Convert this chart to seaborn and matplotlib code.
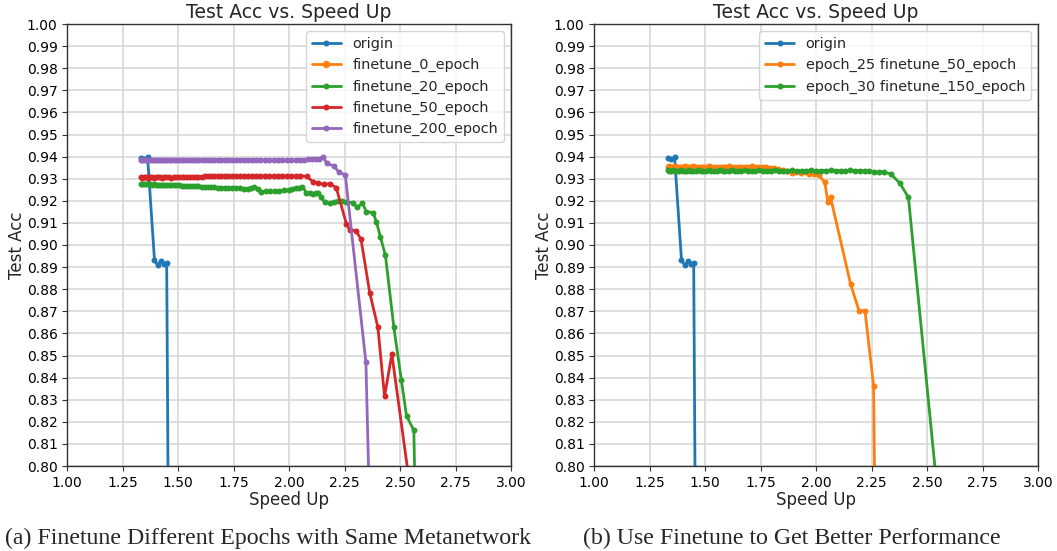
import matplotlib
matplotlib.use("Agg")
import matplotlib.pyplot as plt
import seaborn as sns
import numpy as np

# ---------------- data ----------------
# shared "origin" curve
origin_x = [1.330, 1.346, 1.362, 1.393, 1.408, 1.423, 1.435, 1.448, 1.460]
origin_y = [0.9393, 0.9389, 0.9396, 0.8932, 0.8908, 0.8927, 0.8912, 0.8920, 0.7000]

# left panel
ft0_x = []   # finetune_0_epoch: below visible range
ft0_y = []

ft200_x = [1.330, 1.338, 1.346, 1.354, 1.362, 1.371, 1.380, 1.389, 1.398, 1.407,
           1.417, 1.427, 1.437, 1.447, 1.458, 1.469, 1.480, 1.491, 1.503, 1.515,
           1.527, 1.539, 1.552, 1.565, 1.578, 1.591, 1.605, 1.619, 1.633, 1.648,
           1.663, 1.678, 1.694, 1.710, 1.726, 1.743, 1.760, 1.777, 1.795, 1.813,
           1.832, 1.851, 1.870, 1.890, 1.910, 1.930, 1.950, 1.970, 1.990, 2.010,
           2.030, 2.050, 2.068, 2.086, 2.104, 2.120, 2.136, 2.152, 2.170, 2.202,
           2.224, 2.253, 2.346, 2.370]
ft200_y = [0.9386, 0.9385, 0.9385, 0.9386, 0.9385, 0.9384, 0.9385, 0.9385, 0.9386, 0.9385,
           0.9385, 0.9384, 0.9385, 0.9385, 0.9386, 0.9385, 0.9385, 0.9385, 0.9384, 0.9385,
           0.9385, 0.9386, 0.9385, 0.9385, 0.9385, 0.9384, 0.9385, 0.9385, 0.9385, 0.9386,
           0.9385, 0.9385, 0.9384, 0.9385, 0.9385, 0.9385, 0.9386, 0.9385, 0.9385, 0.9385,
           0.9384, 0.9385, 0.9385, 0.9385, 0.9386, 0.9385, 0.9385, 0.9385, 0.9384, 0.9385,
           0.9385, 0.9386, 0.9386, 0.9387, 0.9388, 0.9389, 0.9391, 0.9397, 0.9370, 0.9357,
           0.9330, 0.9317, 0.8469, 0.7500]

ft50_x = [1.330, 1.338, 1.346, 1.354, 1.362, 1.371, 1.380, 1.389, 1.398, 1.407,
          1.417, 1.427, 1.437, 1.447, 1.458, 1.469, 1.480, 1.491, 1.503, 1.515,
          1.527, 1.539, 1.552, 1.565, 1.578, 1.591, 1.605, 1.619, 1.633, 1.648,
          1.663, 1.678, 1.694, 1.710, 1.726, 1.743, 1.760, 1.777, 1.795, 1.813,
          1.832, 1.851, 1.870, 1.890, 1.910, 1.930, 1.950, 1.970, 1.990, 2.010,
          2.030, 2.047, 2.080, 2.107, 2.130, 2.155, 2.182, 2.212, 2.258, 2.273,
          2.300, 2.324, 2.363, 2.400, 2.430, 2.463, 2.600]
ft50_y = [0.9306, 0.9305, 0.9306, 0.9306, 0.9305, 0.9306, 0.9306, 0.9305, 0.9306, 0.9306,
          0.9306, 0.9305, 0.9306, 0.9306, 0.9306, 0.9305, 0.9306, 0.9306, 0.9307, 0.9306,
          0.9306, 0.9307, 0.9306, 0.9307, 0.9307, 0.9306, 0.9308, 0.9310, 0.9312, 0.9313,
          0.9313, 0.9312, 0.9313, 0.9313, 0.9312, 0.9313, 0.9313, 0.9313, 0.9312, 0.9313,
          0.9313, 0.9312, 0.9313, 0.9313, 0.9312, 0.9313, 0.9313, 0.9312, 0.9313, 0.9312,
          0.9312, 0.9313, 0.9310, 0.9287, 0.9280, 0.9275, 0.9277, 0.9260, 0.9096, 0.9068,
          0.9065, 0.9026, 0.8785, 0.8627, 0.8315, 0.8506, 0.7500]

ft20_x = [1.330, 1.338, 1.346, 1.354, 1.362, 1.371, 1.380, 1.389, 1.398, 1.407,
          1.417, 1.427, 1.437, 1.447, 1.458, 1.469, 1.480, 1.491, 1.503, 1.515,
          1.527, 1.539, 1.552, 1.565, 1.578, 1.591, 1.605, 1.619, 1.633, 1.648,
          1.663, 1.678, 1.694, 1.710, 1.726, 1.743, 1.760, 1.777, 1.795, 1.813,
          1.830, 1.843, 1.858, 1.875, 1.895, 1.915, 1.935, 1.956, 1.978, 2.000,
          2.015, 2.030, 2.045, 2.060, 2.077, 2.092, 2.107, 2.120, 2.132, 2.145,
          2.160, 2.182, 2.200, 2.220, 2.240, 2.258, 2.288, 2.306, 2.330, 2.348,
          2.378, 2.393, 2.411, 2.434, 2.472, 2.506, 2.529, 2.562, 2.575]
ft20_y = [0.9275, 0.9275, 0.9274, 0.9275, 0.9274, 0.9274, 0.9273, 0.9274, 0.9273, 0.9273,
          0.9272, 0.9273, 0.9272, 0.9271, 0.9272, 0.9271, 0.9270, 0.9271, 0.9270, 0.9268,
          0.9268, 0.9267, 0.9267, 0.9266, 0.9265, 0.9265, 0.9264, 0.9263, 0.9262, 0.9262,
          0.9261, 0.9260, 0.9258, 0.9258, 0.9257, 0.9257, 0.9256, 0.9256, 0.9255, 0.9255,
          0.9258, 0.9262, 0.9252, 0.9242, 0.9243, 0.9244, 0.9243, 0.9246, 0.9248, 0.9250,
          0.9254, 0.9257, 0.9260, 0.9264, 0.9237, 0.9234, 0.9231, 0.9234, 0.9237, 0.9215,
          0.9194, 0.9189, 0.9196, 0.9200, 0.9197, 0.9194, 0.9192, 0.9170, 0.9189, 0.9151,
          0.9147, 0.9106, 0.9038, 0.8953, 0.8627, 0.8387, 0.8227, 0.8161, 0.7500]

# right panel
e25_x = [1.330, 1.338, 1.346, 1.354, 1.362, 1.371, 1.380, 1.389, 1.398, 1.407,
         1.417, 1.427, 1.437, 1.447, 1.458, 1.469, 1.480, 1.491, 1.503, 1.515,
         1.527, 1.539, 1.552, 1.565, 1.578, 1.591, 1.605, 1.619, 1.633, 1.648,
         1.663, 1.678, 1.694, 1.710, 1.726, 1.743, 1.760, 1.775, 1.790, 1.810,
         1.830, 1.850, 1.870, 1.890, 1.910, 1.930, 1.950, 1.970, 1.990, 2.007,
         2.012, 2.039, 2.053, 2.065, 2.155, 2.193, 2.220, 2.259, 2.268]
e25_y = [0.9355, 0.9356, 0.9355, 0.9355, 0.9356, 0.9355, 0.9355, 0.9354, 0.9355, 0.9356,
         0.9355, 0.9355, 0.9355, 0.9356, 0.9355, 0.9355, 0.9354, 0.9355, 0.9355, 0.9356,
         0.9355, 0.9355, 0.9355, 0.9354, 0.9355, 0.9355, 0.9356, 0.9355, 0.9355, 0.9355,
         0.9354, 0.9355, 0.9355, 0.9356, 0.9355, 0.9355, 0.9355, 0.9353, 0.9350, 0.9348,
         0.9344, 0.9340, 0.9335, 0.9325, 0.9330, 0.9328, 0.9330, 0.9322, 0.9320, 0.9320,
         0.9317, 0.9283, 0.9194, 0.9215, 0.8824, 0.8703, 0.8703, 0.8362, 0.7500]

e30_x = [1.330, 1.338, 1.346, 1.354, 1.362, 1.371, 1.380, 1.389, 1.398, 1.407,
         1.417, 1.427, 1.437, 1.447, 1.458, 1.469, 1.480, 1.491, 1.503, 1.515,
         1.527, 1.539, 1.552, 1.565, 1.578, 1.591, 1.605, 1.619, 1.633, 1.648,
         1.663, 1.678, 1.694, 1.710, 1.726, 1.743, 1.760, 1.777, 1.795, 1.813,
         1.832, 1.851, 1.870, 1.890, 1.912, 1.934, 1.956, 1.978, 2.000, 2.022,
         2.044, 2.066, 2.088, 2.110, 2.132, 2.154, 2.176, 2.198, 2.220, 2.240,
         2.261, 2.283, 2.306, 2.336, 2.377, 2.416, 2.600]
e30_y = [0.9338, 0.9337, 0.9337, 0.9338, 0.9337, 0.9337, 0.9337, 0.9338, 0.9337, 0.9337,
         0.9337, 0.9338, 0.9337, 0.9337, 0.9337, 0.9338, 0.9337, 0.9337, 0.9337, 0.9338,
         0.9337, 0.9337, 0.9337, 0.9338, 0.9337, 0.9337, 0.9337, 0.9338, 0.9337, 0.9337,
         0.9337, 0.9338, 0.9337, 0.9337, 0.9337, 0.9338, 0.9337, 0.9337, 0.9337, 0.9338,
         0.9337, 0.9337, 0.9337, 0.9338, 0.9337, 0.9337, 0.9337, 0.9338, 0.9337, 0.9337,
         0.9337, 0.9338, 0.9337, 0.9337, 0.9337, 0.9338, 0.9337, 0.9337, 0.9337, 0.9336,
         0.9330, 0.9332, 0.9330, 0.9322, 0.9280, 0.9215, 0.7336]

left_series = [
    ("origin", origin_x, origin_y, "#1f77b4"),
    ("finetune_0_epoch", ft0_x, ft0_y, "#ff7f0e"),
    ("finetune_20_epoch", ft20_x, ft20_y, "#2ca02c"),
    ("finetune_50_epoch", ft50_x, ft50_y, "#d62728"),
    ("finetune_200_epoch", ft200_x, ft200_y, "#9467bd"),
]
right_series = [
    ("origin", origin_x, origin_y, "#1f77b4"),
    ("epoch_25 finetune_50_epoch", e25_x, e25_y, "#ff7f0e"),
    ("epoch_30 finetune_150_epoch", e30_x, e30_y, "#2ca02c"),
]

x_ticks = [1.00, 1.25, 1.50, 1.75, 2.00, 2.25, 2.50, 2.75, 3.00]
y_ticks = [round(0.80 + 0.01 * i, 2) for i in range(21)]

title = "Test Acc vs. Speed Up"
xlabel = "Speed Up"
ylabel = "Test Acc"
captions = ["(a) Finetune Different Epochs with Same Metanetwork",
            "(b) Use Finetune to Get Better Performance"]

# ---------------- style ----------------
sns.set_theme(style="ticks")
plt.rcParams["font.family"] = ["DejaVu Sans"]

fig = plt.figure(figsize=(10.57, 5.51), dpi=100)
W, H = 1057, 551
ax1 = fig.add_axes([67.3 / W, (H - 466) / H, 443.7 / W, 442 / H])
ax2 = fig.add_axes([594.3 / W, (H - 466) / H, 443.7 / W, 442 / H])


def draw(ax, series):
    for name, xs, ys, col in series:
        if len(xs) == 0:
            ax.plot([], [], color=col, lw=2, marker="o", ms=4.3, label=name)
            continue
        sns.lineplot(x=xs, y=ys, ax=ax, color=col, lw=2, marker="o",
                     markersize=4.3, markeredgewidth=0, markeredgecolor=col,
                     sort=False, estimator=None, label=name)
    ax.set_xlim(1.0, 3.0)
    ax.set_ylim(0.80, 1.00)
    ax.set_xticks(x_ticks)
    ax.set_yticks(y_ticks)
    ax.set_xticklabels([f"{t:.2f}" for t in x_ticks], fontsize=10)
    ax.set_yticklabels([f"{t:.2f}" for t in y_ticks], fontsize=10)
    ax.grid(True, color="#d4d4d4", lw=1.1)
    ax.set_axisbelow(True)
    for s in ax.spines.values():
        s.set_color("#333333")
        s.set_linewidth(1.0)
    ax.tick_params(length=3.5, width=0.8, color="#333333", labelcolor="black", pad=3.5)
    ax.set_title(title, fontsize=13.5, pad=4)
    ax.set_xlabel(xlabel, fontsize=12, labelpad=1)
    ax.set_ylabel(ylabel, fontsize=12, labelpad=0.5)
    ax.legend(loc="upper right", fontsize=10.4, frameon=True, framealpha=0.8,
              edgecolor="#cccccc", fancybox=True)


draw(ax1, left_series)
draw(ax2, right_series)

fig.text(268 / W, 1 - 538 / H, captions[0], ha="center", va="center",
         fontsize=17.2, family="Liberation Serif")
fig.text(792 / W, 1 - 538 / H, captions[1], ha="center", va="center",
         fontsize=17.2, family="Liberation Serif")

fig.savefig("out.png", dpi=100)
